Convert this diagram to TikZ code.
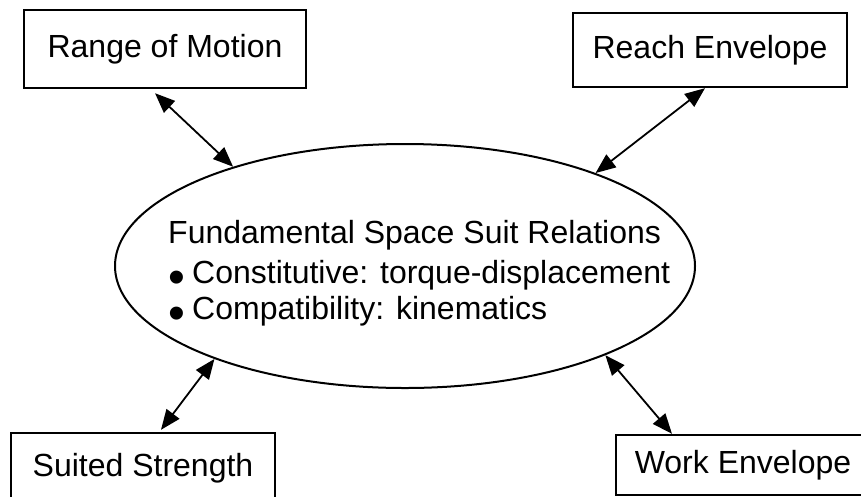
\documentclass[tikz,border=0pt]{standalone}
\usepackage{fontspec}
\setmainfont{Liberation Sans}
\usepackage{graphicx}
\usetikzlibrary{arrows.meta,shapes.geometric}

\tikzset{
  suitbox/.style={draw=black, line width=2.4pt, inner sep=0pt, font=\fontsize{32}{37}\selectfont},
  link/.style={line width=1.8pt, {Triangle[length=20pt,width=16pt]}-{Triangle[length=20pt,width=16pt]}}
}
\newcommand{\dotmark}{\makebox[24pt][l]{\smash{\raisebox{-10pt}{\scalebox{1.5}{•}}}}}

\begin{document}
\begin{tikzpicture}[x=1pt,y=-1pt]
  \useasboundingbox (0,0) rectangle (861,496);
  \clip (0,0) rectangle (861,496);

  %% relations
  \node[draw, ellipse, line width=2pt, minimum width=580pt, minimum height=244pt, inner sep=0pt] (core) at (405,266) {};
  \node[anchor=north west, inner sep=0pt, align=left, font=\fontsize{32}{36}\selectfont] (rel) at (168,220)
    {Fundamental Space Suit Relations\\[4pt]
     \dotmark Constitutive: torque-displacement\\
     \dotmark Compatibility: kinematics};

  %% boxes
  \node[suitbox, minimum width=282pt, minimum height=78pt] (rom) at (165,49) {Range of Motion};
  \node[suitbox, minimum width=274pt, minimum height=74pt] (reach) at (710,50) {Reach Envelope};
  \node[suitbox, minimum width=264pt, minimum height=70pt] (str) at (143,468) {Suited Strength};
  \node[suitbox, minimum width=254pt, minimum height=60pt] (work) at (743,465) {Work Envelope};

  %% links
  \draw[link] ([shift={(-10pt,-4pt)}]rom.south) -- (core.150);
  \draw[link] ([xshift=-5pt]reach.south) -- (core.26);
  \draw[link] ([shift={(18pt,2pt)}]str.north) -- (core.206);
  \draw[link] ([xshift=-71pt]work.north) -- (core.336);
\end{tikzpicture}
\end{document}
